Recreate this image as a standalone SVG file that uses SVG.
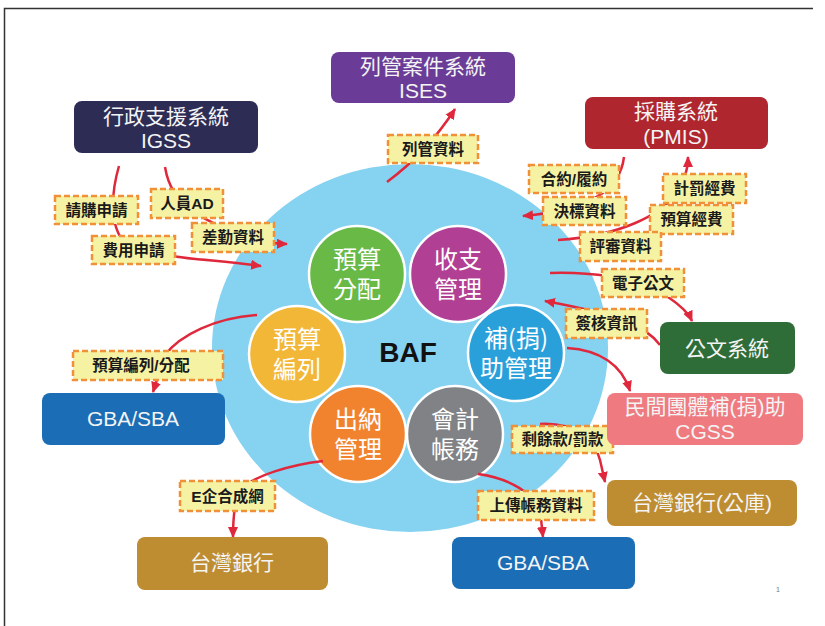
<svg xmlns="http://www.w3.org/2000/svg" width="825" height="626" viewBox="0 0 825 626">
<defs>
<marker id="ah" markerUnits="userSpaceOnUse" markerWidth="12" markerHeight="10" refX="10" refY="5" orient="auto">
<path d="M0,0 L11,5 L0,10 z" fill="#e0283c"/>
</marker>
<style>
.node text{fill:#f4f4f4;font-family:"Liberation Sans","Noto Sans CJK TC",sans-serif;font-size:21px;text-anchor:middle}
.circ text{fill:#ffffff;font-family:"Noto Sans CJK TC",sans-serif;font-size:24px;text-anchor:middle}
.circ circle{stroke:#ffffff;stroke-width:2.5}
.lbl rect{fill:#f6f2a4;stroke:#f0913a;stroke-width:2.5;stroke-dasharray:6,3}
.lbl text{fill:#1a1a1a;font-family:"Liberation Sans","Noto Sans CJK TC",sans-serif;font-size:15.5px;font-weight:bold;text-anchor:middle}
#connectors path{fill:none;stroke:#e0283c;stroke-width:2.5;marker-end:url(#ah)}
</style>
</defs>
<rect width="825" height="626" fill="#ffffff"/>
<path d="M4.5,626 V8.5 H813" fill="none" stroke="#333" stroke-width="1.5"/>
<ellipse id="baf-bg" cx="410" cy="348" rx="198" ry="184" fill="#86d2f1"/>
<text x="408" y="362" font-family="Liberation Sans,Arial,sans-serif" font-size="28" font-weight="bold" text-anchor="middle" fill="#111">BAF</text>

<g id="c-budgetalloc" class="circ"><circle cx="357" cy="274" r="48" fill="#68b945"/><text x="357" y="268">預算</text><text x="357" y="298">分配</text></g>
<g id="c-incomeexp" class="circ"><circle cx="458" cy="274" r="48" fill="#b13f94"/><text x="458" y="268">收支</text><text x="458" y="298">管理</text></g>
<g id="c-budgetplan" class="circ"><circle cx="297" cy="354" r="48" fill="#f3b737"/><text x="297" y="348">預算</text><text x="297" y="378">編列</text></g>
<g id="c-subsidy" class="circ"><circle cx="516" cy="353" r="48" fill="#2aa0da"/><text x="516" y="347">補(捐)</text><text x="516" y="377">助管理</text></g>
<g id="c-cashier" class="circ"><circle cx="358" cy="434" r="48" fill="#f1832f"/><text x="358" y="428">出納</text><text x="358" y="458">管理</text></g>
<g id="c-accounting" class="circ"><circle cx="455" cy="434" r="48" fill="#818285"/><text x="455" y="428">會計</text><text x="455" y="458">帳務</text></g>

<g id="connectors">
<path d="M119,166 C112,190 108,225 125,243 C150,258 200,258 261,266"/>
<path d="M165,167 C168,185 175,200 200,216 C230,232 250,243 287,244"/>
<path d="M387,182 C410,165 435,140 455,109"/>
<path d="M624,157 C620,190 590,210 523,216"/>
<path d="M558,240 C620,236 660,215 675,195 C685,180 688,170 688,157"/>
<path d="M550,273 C580,272 640,275 668,297 C680,305 688,312 692,321"/>
<path d="M660,345 C645,325 620,315 545,301"/>
<path d="M567,348 C600,350 622,365 630,391"/>
<path d="M540,424 C575,422 595,440 600,460 L605,482"/>
<path d="M478,474 C510,478 535,495 540,510 L543,537"/>
<path d="M257,315 C215,318 180,335 165,355 L153,392"/>
<path d="M323,461 C290,465 255,475 240,490 C235,500 233,515 233,537"/>
</g>

<g id="l-qinggou" class="lbl"><rect x="55" y="196" width="83" height="28"/><text x="96.5" y="216">請購申請</text></g>
<g id="l-renyuan" class="lbl"><rect x="151" y="189" width="72" height="29"/><text x="187" y="209">人員AD</text></g>
<g id="l-feiyong" class="lbl"><rect x="92" y="236" width="83" height="28"/><text x="133.5" y="256">費用申請</text></g>
<g id="l-chaqin" class="lbl"><rect x="192" y="223" width="82" height="29"/><text x="233" y="243">差勤資料</text></g>
<g id="l-lieguan" class="lbl"><rect x="388" y="135" width="90" height="28"/><text x="433" y="155">列管資料</text></g>
<g id="l-heyue" class="lbl"><rect x="529" y="165" width="90" height="28"/><text x="574" y="185">合約/履約</text></g>
<g id="l-juebiao" class="lbl"><rect x="543" y="197" width="83" height="28"/><text x="584.5" y="217">決標資料</text></g>
<g id="l-jifa" class="lbl"><rect x="663" y="174" width="83" height="29"/><text x="704.5" y="194">計罰經費</text></g>
<g id="l-yusuan" class="lbl"><rect x="650" y="205" width="83" height="29"/><text x="691.5" y="225">預算經費</text></g>
<g id="l-pingshen" class="lbl"><rect x="580" y="232" width="81" height="29"/><text x="620.5" y="252">評審資料</text></g>
<g id="l-dianzi" class="lbl"><rect x="602" y="269" width="82" height="28"/><text x="643" y="289">電子公文</text></g>
<g id="l-qianhe" class="lbl"><rect x="566" y="309" width="81" height="29"/><text x="606.5" y="329">簽核資訊</text></g>
<g id="l-shengyu" class="lbl"><rect x="512" y="426" width="101" height="27"/><text x="562.5" y="445">剩餘款/罰款</text></g>
<g id="l-bianlie" class="lbl"><rect x="73" y="351" width="150" height="29"/><text x="141" y="371">預算編列/分配</text></g>
<g id="l-eqi" class="lbl"><rect x="180" y="481" width="95" height="30"/><text x="227.5" y="502">E企合成網</text></g>
<g id="l-shangchuan" class="lbl"><rect x="478" y="491" width="116" height="29"/><text x="536" y="511">上傳帳務資料</text></g>

<g id="n-igss" class="node"><rect x="74" y="101" width="184" height="52" rx="8" fill="#2c2c55"/><text x="166" y="124">行政支援系統</text><text x="166" y="148">IGSS</text></g>
<g id="n-ises" class="node"><rect x="331" y="52" width="184" height="51" rx="8" fill="#6a3c97"/><text x="423" y="74">列管案件系統</text><text x="423" y="98">ISES</text></g>
<g id="n-pmis" class="node"><rect x="585" y="97" width="183" height="52" rx="8" fill="#b0262f"/><text x="676" y="119">採購系統</text><text x="676" y="144">(PMIS)</text></g>
<g id="n-gongwen" class="node"><rect x="660" y="322" width="135" height="52" rx="8" fill="#2e6d38"/><text x="727" y="356" font-size="22">公文系統</text></g>
<g id="n-cgss" class="node"><rect x="607" y="393" width="196" height="52" rx="8" fill="#ef7b81"/><text x="705" y="414">民間團體補(捐)助</text><text x="705" y="439">CGSS</text></g>
<g id="n-twbank-treasury" class="node"><rect x="607" y="480" width="190" height="46" rx="8" fill="#bf8d31"/><text x="702" y="510">台灣銀行(公庫)</text></g>
<g id="n-gba-bottom" class="node"><rect x="452" y="537" width="183" height="52" rx="8" fill="#1b6db5"/><text x="543" y="570">GBA/SBA</text></g>
<g id="n-twbank" class="node"><rect x="137" y="537" width="191" height="53" rx="8" fill="#bf8d31"/><text x="232" y="570">台灣銀行</text></g>
<g id="n-gba-left" class="node"><rect x="42" y="393" width="183" height="52" rx="8" fill="#1b6db5"/><text x="133" y="426">GBA/SBA</text></g>

<text x="778" y="592" font-family="Liberation Sans,sans-serif" font-size="7" fill="#777" text-anchor="middle">1</text>
</svg>
